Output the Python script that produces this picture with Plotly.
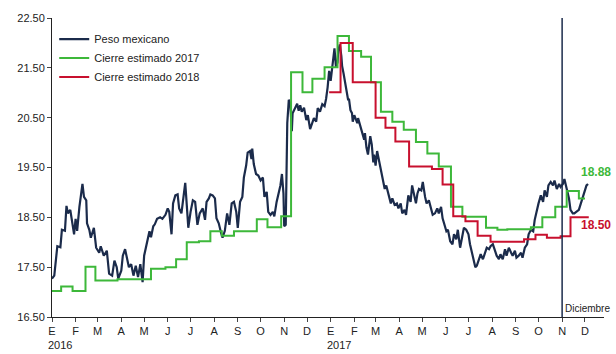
import plotly.graph_objects as go

# Tipo de cambio peso/dólar (observado)
peso_dates = [
    "2016-01-01", "2016-01-04", "2016-01-08", "2016-01-12", "2016-01-14", "2016-01-18", "2016-01-20",
    "2016-01-22", "2016-01-25", "2016-01-28", "2016-01-30", "2016-02-01", "2016-02-03", "2016-02-06",
    "2016-02-08", "2016-02-10", "2016-02-12", "2016-02-15", "2016-02-16", "2016-02-19", "2016-02-21",
    "2016-02-25", "2016-02-28", "2016-03-03", "2016-03-05", "2016-03-09", "2016-03-13", "2016-03-16",
    "2016-03-20", "2016-03-23", "2016-03-26", "2016-03-28", "2016-04-01", "2016-04-03", "2016-04-06",
    "2016-04-09", "2016-04-11", "2016-04-14", "2016-04-17", "2016-04-20", "2016-04-23", "2016-04-26",
    "2016-04-29", "2016-05-01", "2016-05-05", "2016-05-08", "2016-05-10", "2016-05-13", "2016-05-15",
    "2016-05-18", "2016-05-22", "2016-05-25", "2016-05-29", "2016-06-01", "2016-06-03", "2016-06-06",
    "2016-06-08", "2016-06-11", "2016-06-14", "2016-06-16", "2016-06-19", "2016-06-22", "2016-06-24",
    "2016-06-26", "2016-06-28", "2016-07-01", "2016-07-04", "2016-07-07", "2016-07-10", "2016-07-13",
    "2016-07-17", "2016-07-20", "2016-07-22", "2016-07-25", "2016-07-27", "2016-07-30", "2016-08-02",
    "2016-08-04", "2016-08-07", "2016-08-10", "2016-08-12", "2016-08-15", "2016-08-18", "2016-08-21",
    "2016-08-24", "2016-08-27", "2016-08-30", "2016-09-01", "2016-09-04", "2016-09-07", "2016-09-09",
    "2016-09-12", "2016-09-14", "2016-09-17", "2016-09-19", "2016-09-20", "2016-09-22", "2016-09-25",
    "2016-09-28", "2016-10-01", "2016-10-04", "2016-10-06", "2016-10-09", "2016-10-11", "2016-10-14",
    "2016-10-17", "2016-10-19", "2016-10-22", "2016-10-25", "2016-10-27", "2016-10-29", "2016-10-31",
    "2016-11-01", "2016-11-03", "2016-11-05", "2016-11-07", "2016-11-09", "2016-11-11", "2016-11-12",
    "2016-11-15", "2016-11-18", "2016-11-20", "2016-11-22", "2016-11-24", "2016-11-27", "2016-11-30",
    "2016-12-02", "2016-12-05", "2016-12-08", "2016-12-10", "2016-12-13", "2016-12-15", "2016-12-18",
    "2016-12-21", "2016-12-24", "2016-12-26", "2016-12-28", "2016-12-30", "2017-01-01", "2017-01-03",
    "2017-01-04", "2017-01-06", "2017-01-08", "2017-01-10", "2017-01-11", "2017-01-13", "2017-01-15",
    "2017-01-16", "2017-01-18", "2017-01-20", "2017-01-22", "2017-01-24", "2017-01-25", "2017-01-27",
    "2017-01-29", "2017-01-30", "2017-02-01", "2017-02-03", "2017-02-05", "2017-02-06", "2017-02-08",
    "2017-02-11", "2017-02-14", "2017-02-15", "2017-02-17", "2017-02-19", "2017-02-20", "2017-02-22",
    "2017-02-24", "2017-02-26", "2017-02-27", "2017-03-01", "2017-03-03", "2017-03-06", "2017-03-08",
    "2017-03-10", "2017-03-13", "2017-03-15", "2017-03-18", "2017-03-21", "2017-03-23", "2017-03-26",
    "2017-03-29", "2017-03-31", "2017-04-03", "2017-04-05", "2017-04-08", "2017-04-10", "2017-04-13",
    "2017-04-16", "2017-04-18", "2017-04-21", "2017-04-23", "2017-04-25", "2017-04-27", "2017-04-30",
    "2017-05-02", "2017-05-05", "2017-05-07", "2017-05-10", "2017-05-13", "2017-05-15", "2017-05-18",
    "2017-05-21", "2017-05-23", "2017-05-26", "2017-05-28", "2017-05-30", "2017-06-02", "2017-06-04",
    "2017-06-07", "2017-06-10", "2017-06-12", "2017-06-15", "2017-06-17", "2017-06-20", "2017-06-23",
    "2017-06-25", "2017-06-28", "2017-07-01", "2017-07-03", "2017-07-06", "2017-07-08", "2017-07-10",
    "2017-07-12", "2017-07-15", "2017-07-17", "2017-07-20", "2017-07-23", "2017-07-25", "2017-07-28",
    "2017-07-30", "2017-08-02", "2017-08-05", "2017-08-07", "2017-08-10", "2017-08-12", "2017-08-15",
    "2017-08-18", "2017-08-20", "2017-08-23", "2017-08-26", "2017-08-28", "2017-08-31", "2017-09-02",
    "2017-09-05", "2017-09-08", "2017-09-10", "2017-09-13", "2017-09-16", "2017-09-18", "2017-09-21",
    "2017-09-24", "2017-09-26", "2017-09-29", "2017-10-01", "2017-10-04", "2017-10-07", "2017-10-09",
    "2017-10-12", "2017-10-14", "2017-10-17", "2017-10-20", "2017-10-22", "2017-10-25", "2017-10-28",
    "2017-10-30", "2017-11-02", "2017-11-04", "2017-11-07", "2017-11-10", "2017-11-12", "2017-11-15",
    "2017-11-17", "2017-11-20", "2017-11-23", "2017-11-25", "2017-11-28", "2017-12-01", "2017-12-03",
    "2017-12-05",
]
peso_values = [
    17.27, 17.33, 17.92, 17.90, 18.25, 18.23, 18.73,
    18.58, 18.65, 18.29, 18.16, 18.47, 18.23, 18.71,
    18.91, 19.17, 18.91, 18.84, 18.38, 18.25, 18.09,
    18.29, 17.89, 17.79, 17.92, 17.73, 17.83, 17.37,
    17.33, 17.63, 17.50, 17.27, 17.43, 17.73, 17.86,
    17.60, 17.50, 17.56, 17.33, 17.53, 17.30, 17.56,
    17.20, 17.73, 18.02, 18.22, 18.10, 18.32, 18.36,
    18.47, 18.50, 18.47, 18.55, 18.68, 18.61, 18.16,
    18.78, 18.94, 18.96, 18.68, 18.58, 18.91, 19.19,
    18.75, 18.29, 18.61, 18.84, 18.81, 18.35, 18.58,
    18.68, 18.45, 18.81, 18.88, 18.96, 18.94, 18.88,
    18.48, 18.38, 18.19, 18.09, 18.23, 18.58, 18.35,
    18.78, 18.81, 18.61, 18.29, 18.81, 18.91, 19.30,
    19.54, 19.80, 19.83, 19.67, 19.88, 19.57, 19.37,
    19.34, 19.24, 19.30, 18.91, 19.01, 18.61, 18.55,
    18.61, 18.52, 18.81, 18.98, 19.14, 19.37, 18.98,
    18.32, 18.35, 20.39, 20.86, 20.78, 20.23, 20.59,
    20.69, 20.78, 20.64, 20.75, 20.62, 20.70, 20.45,
    20.55, 20.27, 20.39, 20.49, 20.42, 20.69, 20.62,
    20.77, 20.73, 20.88, 21.11, 21.44, 21.24, 21.51,
    21.74, 21.89, 21.51, 21.61, 21.84, 21.97, 21.74,
    21.54, 21.38, 21.21, 21.08, 20.85, 20.88, 20.65,
    20.59, 20.42, 20.55, 20.45, 20.39, 20.49, 20.39,
    20.26, 20.06, 20.19, 19.90, 19.76, 19.86, 20.13,
    19.96, 19.60, 19.76, 19.54, 19.83, 19.60, 19.44,
    19.27, 19.07, 19.14, 18.94, 18.78, 18.88, 18.75,
    18.78, 18.68, 18.78, 18.58, 18.65, 18.55, 18.94,
    18.81, 19.14, 18.94, 18.78, 18.98, 19.07, 19.04,
    19.21, 18.91, 18.78, 18.84, 18.68, 18.55, 18.58,
    18.68, 18.58, 18.71, 18.48, 18.35, 18.22, 18.25,
    18.02, 17.96, 18.16, 18.06, 18.25, 17.89, 18.16,
    18.29, 18.25, 18.16, 17.96, 17.76, 17.59, 17.50,
    17.53, 17.69, 17.76, 17.66, 17.83, 17.89, 17.86,
    17.92, 17.96, 17.83, 17.73, 17.66, 17.76, 17.66,
    17.86, 17.73, 17.89, 17.79, 17.73, 17.83, 17.69,
    17.73, 17.79, 17.69, 17.89, 17.96, 18.16, 18.25,
    18.22, 18.45, 18.68, 18.78, 18.94, 18.81, 19.04,
    18.91, 19.14, 19.21, 19.14, 19.24, 19.07, 19.17,
    19.11, 19.17, 19.27, 19.07, 18.88, 18.65, 18.58,
    18.58, 18.61, 18.65, 18.75, 18.91, 19.04, 19.14,
    19.17,
]

# Pronóstico de cierre 2017 (encuesta)
cierre17_dates = [
    "2016-01-01", "2016-01-13", "2016-01-28", "2016-02-14", "2016-02-27", "2016-03-27",
    "2016-05-10", "2016-05-29", "2016-06-12", "2016-06-26", "2016-07-12", "2016-07-27",
    "2016-08-11", "2016-08-27", "2016-09-26", "2016-10-10", "2016-10-28", "2016-11-10",
    "2016-11-25", "2016-12-08", "2016-12-24", "2017-01-10", "2017-01-25", "2017-02-10",
    "2017-02-23", "2017-03-08", "2017-03-23", "2017-04-07", "2017-04-23", "2017-05-08",
    "2017-05-23", "2017-06-08", "2017-06-23", "2017-07-24", "2017-08-08", "2017-08-21",
    "2017-09-21", "2017-10-06", "2017-10-23", "2017-11-07", "2017-11-23", "2017-12-01",
]
cierre17_values = [
    17.02, 17.11, 17.02, 17.51, 17.23, 17.26,
    17.47, 17.50, 17.66, 18.00, 18.02, 18.22,
    18.13, 18.22, 18.46, 18.30, 18.52, 21.41,
    21.01, 21.28, 21.51, 22.14, 21.84, 21.72,
    21.21, 20.62, 20.42, 20.26, 20.01, 19.78,
    19.52, 18.71, 18.51, 18.29, 18.25, 18.26,
    18.30, 18.50, 18.71, 19.03, 18.88, 18.88,
]

# Pronóstico de cierre 2018 (encuesta)
cierre18_dates = [
    "2016-12-30", "2017-01-14", "2017-01-30", "2017-03-01", "2017-03-14", "2017-03-27",
    "2017-04-14", "2017-05-14", "2017-05-28", "2017-06-11", "2017-06-27", "2017-07-13",
    "2017-07-30", "2017-09-12", "2017-09-27", "2017-10-12", "2017-10-30", "2017-11-12",
    "2017-12-06",
]
cierre18_values = [
    21.01, 22.00, 21.21, 20.50, 20.30, 20.02,
    19.52, 19.47, 19.16, 18.52, 18.42, 18.13,
    18.01, 18.06, 18.15, 18.09, 18.12, 18.50,
    18.50,
]

month_ticks = [f"{y}-{m:02d}-01" for y in (2016, 2017) for m in range(1, 13)]
month_letters = ["E", "F", "M", "A", "M", "J", "J", "A", "S", "O", "N", "D"] * 2
year_labels = [("2016-01-01", "2016"), ("2017-01-01", "2017")]
y_ticks = [16.5, 17.5, 18.5, 19.5, 20.5, 21.5, 22.5]

NAVY = "#1b2b4b"
GREEN = "#3db83a"
RED = "#c8102e"
FONT = "Liberation Sans, Arial, sans-serif"

fig = go.Figure()
fig.add_trace(go.Scatter(
    x=peso_dates, y=peso_values, mode="lines", name="Peso mexicano",
    line=dict(color=NAVY, width=2.2),
))
fig.add_trace(go.Scatter(
    x=cierre17_dates, y=cierre17_values, mode="lines", name="Cierre estimado 2017",
    line=dict(color=GREEN, width=2, shape="hv"),
))
fig.add_trace(go.Scatter(
    x=cierre18_dates, y=cierre18_values, mode="lines", name="Cierre estimado 2018",
    line=dict(color=RED, width=2, shape="hv"),
))

# Línea vertical de referencia
fig.add_shape(type="line", x0="2017-11-01", x1="2017-11-01", y0=0, y1=1,
              xref="x", yref="paper", line=dict(color=NAVY, width=1.5))

annotations = [
    dict(x="2017-11-02", y=16.68, text="Diciembre", xanchor="left", yanchor="middle",
         showarrow=False, font=dict(size=10, color="#222")),
    dict(x="2017-12-15", y=19.40, text=f"{cierre17_values[-1]:.2f}",
         showarrow=False, font=dict(size=12, color=GREEN, weight="bold")),
    dict(x="2017-12-15", y=18.34, text=f"{cierre18_values[-1]:.2f}",
         showarrow=False, font=dict(size=12, color=RED, weight="bold")),
]
for d, t in year_labels:
    annotations.append(dict(x=d, y=-0.095, xref="x", yref="paper", text=t,
                            xanchor="left", yanchor="middle", xshift=-6,
                            showarrow=False, font=dict(size=11, color="#222")))

fig.update_layout(
    width=616, height=354,
    margin=dict(l=52, r=12, t=13, b=37),
    paper_bgcolor="white", plot_bgcolor="white",
    font=dict(family=FONT, size=11, color="#222"),
    showlegend=True,
    legend=dict(x=0.004, y=0.978, xanchor="left", yanchor="top",
                bgcolor="rgba(0,0,0,0)", font=dict(size=11, color="#222"),
                tracegroupgap=0, itemwidth=30),
    annotations=annotations,
)
fig.update_xaxes(
    type="date", range=["2016-01-01", "2017-12-26"],
    tickmode="array", tickvals=month_ticks, ticktext=month_letters,
    ticks="outside", ticklen=4, tickcolor="#444", tickwidth=1,
    showline=True, linecolor="#222", linewidth=1, showgrid=False, zeroline=False,
    tickfont=dict(size=11, color="#222"),
)
fig.update_yaxes(
    range=[16.5, 22.5], tickmode="array", tickvals=y_ticks,
    ticktext=[f"{v:.2f}" for v in y_ticks],
    ticks="outside", ticklen=4, tickcolor="#444", tickwidth=1,
    showline=True, linecolor="#222", linewidth=1, showgrid=False, zeroline=False,
    tickfont=dict(size=11, color="#222"),
)

fig.write_html("out.html")
